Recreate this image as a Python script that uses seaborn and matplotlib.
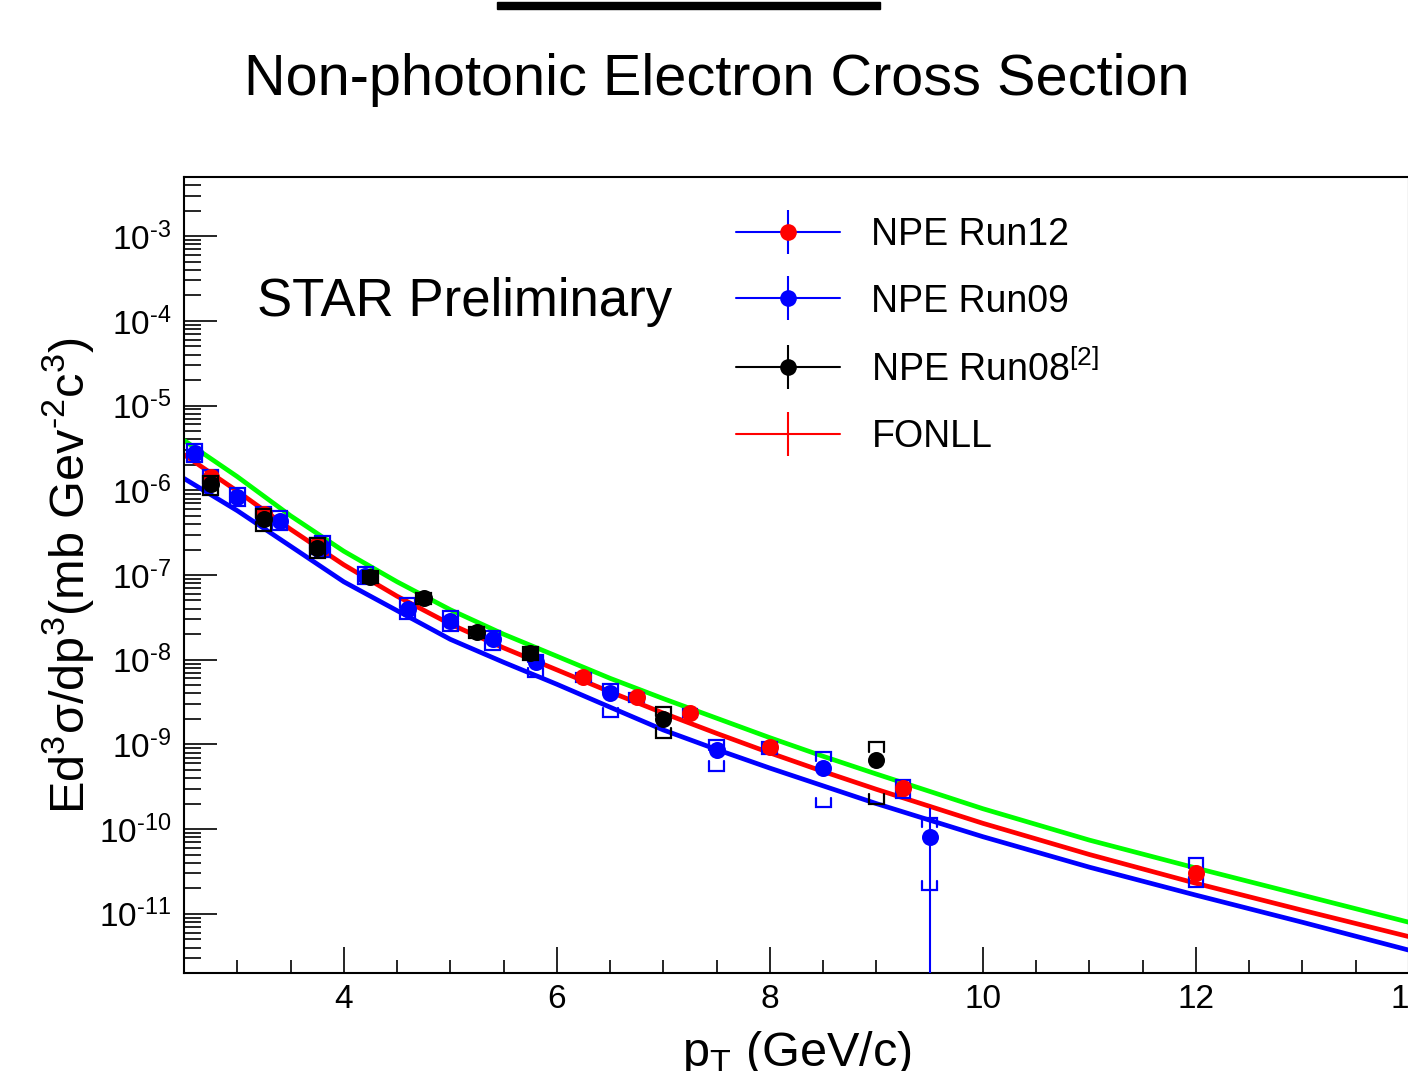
import numpy as np
import pandas as pd
import matplotlib
matplotlib.use("Agg")
import matplotlib.pyplot as plt
from matplotlib.lines import Line2D
from matplotlib.patches import Rectangle
from matplotlib.ticker import (LogLocator, NullFormatter, MultipleLocator, FixedLocator,
                               FuncFormatter)
from matplotlib.legend_handler import HandlerTuple
import seaborn as sns

# ---------------- FONLL prediction: central value and upper / lower edges ----------------
fonll_pt = [2.5, 3.0, 3.5, 4.0, 4.5, 5.0, 5.5, 6.0, 6.5, 7.0, 7.5, 8.0, 8.5, 9.0,
            10.0, 11.0, 12.0, 13.0, 14.0]
fonll_central = [2.63e-6, 9.77e-7, 3.47e-7, 1.32e-7, 5.62e-8, 2.63e-8, 1.38e-8, 7.59e-9,
                 4.17e-9, 2.34e-9, 1.35e-9, 7.94e-10, 4.79e-10, 2.95e-10,
                 1.17e-10, 5.01e-11, 2.29e-11, 1.10e-11, 5.37e-12]
fonll_upper = [3.89e-6, 1.45e-6, 5.01e-7, 1.91e-7, 8.32e-8, 3.89e-8, 2.00e-8, 1.10e-8,
               6.03e-9, 3.47e-9, 2.04e-9, 1.20e-9, 7.24e-10, 4.47e-10,
               1.74e-10, 7.41e-11, 3.47e-11, 1.66e-11, 7.94e-12]
fonll_lower = [1.38e-6, 5.75e-7, 2.19e-7, 8.32e-8, 3.80e-8, 1.74e-8, 9.33e-9, 5.13e-9,
               2.75e-9, 1.48e-9, 8.71e-10, 5.25e-10, 3.24e-10, 2.00e-10,
               8.13e-11, 3.55e-11, 1.66e-11, 7.94e-12, 3.72e-12]

# ---------------- NPE Run12 ----------------
run12_pt = [2.75, 3.25, 3.75, 6.25, 6.75, 7.25, 8.0, 9.25, 12.0]
run12_val = [1.45e-6, 5.2e-7, 2.25e-7, 6.2e-9, 3.6e-9, 2.35e-9, 9.2e-10, 3.05e-10, 3.0e-11]
run12_stat = [0.1e-6, 0.4e-7, 0.2e-7, 0.5e-9, 0.3e-9, 0.2e-9, 0.9e-10, 0.4e-10, 0.8e-11]
run12_sys_lo = [0.30e-6, 1.1e-7, 0.5e-7, 0.8e-9, 0.45e-9, 0.25e-9, 1.4e-10, 0.7e-10, 0.9e-11]
run12_sys_hi = [0.30e-6, 1.1e-7, 0.5e-7, 0.8e-9, 0.45e-9, 0.25e-9, 1.4e-10, 0.7e-10, 1.5e-11]

# ---------------- NPE Run09 ----------------
run09_pt = [2.6, 3.0, 3.4, 3.8, 4.2, 4.6, 5.0, 5.4, 5.8, 6.5, 7.5, 8.5, 9.5]
run09_val = [2.78e-6, 8.4e-7, 4.37e-7, 2.15e-7, 9.8e-8, 4.0e-8, 2.9e-8, 1.74e-8, 9.3e-9,
             4.0e-9, 8.6e-10, 5.2e-10, 8.0e-11]
run09_stat = [0.2e-6, 0.6e-7, 0.3e-7, 0.15e-7, 0.7e-8, 0.3e-8, 0.2e-8, 0.13e-8, 0.8e-9,
              0.4e-9, 1.2e-10, 1.0e-10, 9.7e-11]
run09_sys_lo = [0.6e-6, 1.8e-7, 1.0e-7, 0.5e-7, 0.2e-7, 1.0e-8, 0.7e-8, 0.45e-8, 3.1e-9,
                1.9e-9, 3.7e-10, 3.4e-10, 6.1e-11]
run09_sys_hi = [0.7e-6, 2.3e-7, 1.4e-7, 0.7e-7, 0.25e-7, 1.3e-8, 0.9e-8, 0.45e-8, 2.1e-9,
                1.1e-9, 2.6e-10, 2.9e-10, 5.7e-11]

# ---------------- NPE Run08 ----------------
run08_pt = [2.75, 3.25, 3.75, 4.25, 4.75, 5.25, 5.75, 7.0, 9.0]
run08_val = [1.19e-6, 4.6e-7, 2.1e-7, 9.6e-8, 5.3e-8, 2.1e-8, 1.2e-8, 2.0e-9, 6.5e-10]
run08_stat = [0.1e-6, 0.4e-7, 0.2e-7, 0.8e-8, 0.5e-8, 0.2e-8, 0.12e-8, 0.3e-9, 0.9e-10]
run08_sys_lo = [0.30e-6, 1.3e-7, 0.5e-7, 1.5e-8, 0.8e-8, 0.3e-8, 0.2e-8, 0.8e-9, 4.5e-10]
run08_sys_hi = [0.30e-6, 1.4e-7, 0.6e-7, 1.5e-8, 0.8e-8, 0.3e-8, 0.2e-8, 0.8e-9, 4.1e-10]

legend_labels = ["NPE Run12", "NPE Run09", "NPE Run08$^{[2]}$", "FONLL"]

RED, BLUE, GREEN, BLACK = "#ff0000", "#0000ff", "#00ff00", "#000000"
HYPHEN = "\u2010"

sns.set_theme(style="ticks")
plt.rcParams.update({
    "font.family": ["Liberation Sans", "DejaVu Sans"],
    "mathtext.fontset": "custom",
    "mathtext.rm": "Liberation Sans",
    "mathtext.it": "Liberation Sans:italic",
    "mathtext.bf": "Liberation Sans:bold",
    "mathtext.sf": "Liberation Sans",
    "axes.linewidth": 1.5,
    "text.color": "black",
    "axes.labelcolor": "black",
    "axes.edgecolor": "black",
    "xtick.color": "black",
    "ytick.color": "black",
})

W, H = 1408, 1071
fig = plt.figure(figsize=(W / 100, H / 100), dpi=100)
ax = fig.add_axes([184 / W, 1 - 973 / H, 1225 / W, 796 / H])
ax.set_yscale("log", nonpositive="clip")

# FONLL curves
fonll = pd.DataFrame({"pt": fonll_pt * 3,
                      "val": fonll_upper + fonll_central + fonll_lower,
                      "band": ["upper"] * len(fonll_pt) + ["central"] * len(fonll_pt)
                              + ["lower"] * len(fonll_pt)})
sns.lineplot(data=fonll, x="pt", y="val", hue="band",
             palette={"upper": GREEN, "central": RED, "lower": BLUE},
             linewidth=3.4, legend=False, ax=ax, zorder=2, estimator=None, sort=False)

HALF_W = 0.07          # half width of the systematic brackets (GeV/c)
LEG = 10 ** -0.11      # bracket leg length as a factor on the log axis


def draw_set(pt, val, stat, slo, shi, mcolor, ecolor, bcolor, z):
    df = pd.DataFrame({"pt": pt, "val": val})
    for x, y, lo, hi in zip(pt, val, slo, shi):
        top, bot = y + hi, y - lo
        top_leg = max(top * LEG, y)
        bot_leg = min(bot / LEG, y)
        ax.plot([x - HALF_W, x - HALF_W, x + HALF_W, x + HALF_W],
                [top_leg, top, top, top_leg], color=bcolor, lw=1.6, zorder=z,
                solid_joinstyle="miter")
        ax.plot([x - HALF_W, x - HALF_W, x + HALF_W, x + HALF_W],
                [bot_leg, bot, bot, bot_leg], color=bcolor, lw=1.6, zorder=z,
                solid_joinstyle="miter")
    ax.errorbar(pt, val, yerr=stat, fmt="none", ecolor=ecolor, elinewidth=1.5,
                capsize=0, zorder=z + 0.1)
    sns.scatterplot(data=df, x="pt", y="val", color=mcolor, s=150, linewidth=0,
                    marker="o", ax=ax, zorder=z + 0.2, legend=False)


draw_set(run09_pt, run09_val, run09_stat, run09_sys_lo, run09_sys_hi, BLUE, BLUE, BLUE, 3)
draw_set(run12_pt, run12_val, run12_stat, run12_sys_lo, run12_sys_hi, RED, RED, BLUE, 4)
draw_set(run08_pt, run08_val, run08_stat, run08_sys_lo, run08_sys_hi, BLACK, BLACK, BLACK, 5)


def decade_label(v, pos):
    e = int(round(np.log10(v)))
    sign = HYPHEN if e < 0 else ""
    return f"10$^{{{sign}{abs(e)}}}$"


# Axes ranges and ticks
ax.set_xlim(2.5, 14)
ax.set_ylim(2e-12, 5e-3)
ax.xaxis.set_major_locator(FixedLocator([4, 6, 8, 10, 12, 14]))
ax.xaxis.set_minor_locator(MultipleLocator(0.5))
ax.yaxis.set_major_locator(LogLocator(base=10, numticks=100))
ax.yaxis.set_major_formatter(FuncFormatter(decade_label))
ax.yaxis.set_minor_locator(LogLocator(base=10, subs=np.arange(2, 10), numticks=100))
ax.yaxis.set_minor_formatter(NullFormatter())
ax.tick_params(axis="y", which="major", direction="in", length=24, width=1.2,
               labelsize=24, pad=9, right=False)
ax.tick_params(axis="y", which="minor", direction="in", length=12, width=1.2, right=False)
ax.tick_params(axis="x", which="major", direction="in", length=19, width=1.2,
               labelsize=24, pad=8, top=False)
ax.tick_params(axis="x", which="minor", direction="in", length=9.5, width=1.2, top=False)
for s in ax.spines.values():
    s.set_color("black")
    s.set_linewidth(1.5)

ax.set_xlabel("p$_{\\mathrm{T}}$ (GeV/c)", fontsize=35, labelpad=10)
ax.set_ylabel(f"Ed$^{{3}}$σ/dp$^{{3}}$(mb Gev$^{{{HYPHEN}2}}$c$^{{3}}$)", fontsize=35,
              labelpad=2)

ax.text(0.0596, 0.843, "STAR Preliminary", transform=ax.transAxes, fontsize=38,
        va="center", ha="left")

# Legend: each entry combines line, vertical bar and marker
def entry(line_color, bar_color, marker_color):
    parts = [Line2D([], [], color=line_color, lw=1.5),
             Line2D([], [], ls="", marker="|", ms=32, mew=1.5, color=bar_color)]
    if marker_color is not None:
        parts.append(Line2D([], [], ls="", marker="o", ms=12, mew=0, color=marker_color))
    return tuple(parts)

handles = [entry(BLUE, BLUE, RED), entry(BLUE, BLUE, BLUE),
           entry(BLACK, BLACK, BLACK), entry(RED, RED, None)]
ax.legend(handles, legend_labels, loc="upper left", bbox_to_anchor=(0.451, 0.950),
          frameon=False, fontsize=27, handlelength=2.75, handletextpad=0.85,
          labelspacing=0.82, borderpad=0, borderaxespad=0,
          handler_map={tuple: HandlerTuple(ndivide=1)})

# Title and bar above it
fig.text(717 / W, 1 - 80 / H, "Non-photonic Electron Cross Section", ha="center",
         va="center", fontsize=41.5)
fig.add_artist(Rectangle((497 / W, 1 - 8.5 / H), 383 / W, 7 / H,
                         transform=fig.transFigure, color="black"))

fig.savefig("out.png", dpi=100)
